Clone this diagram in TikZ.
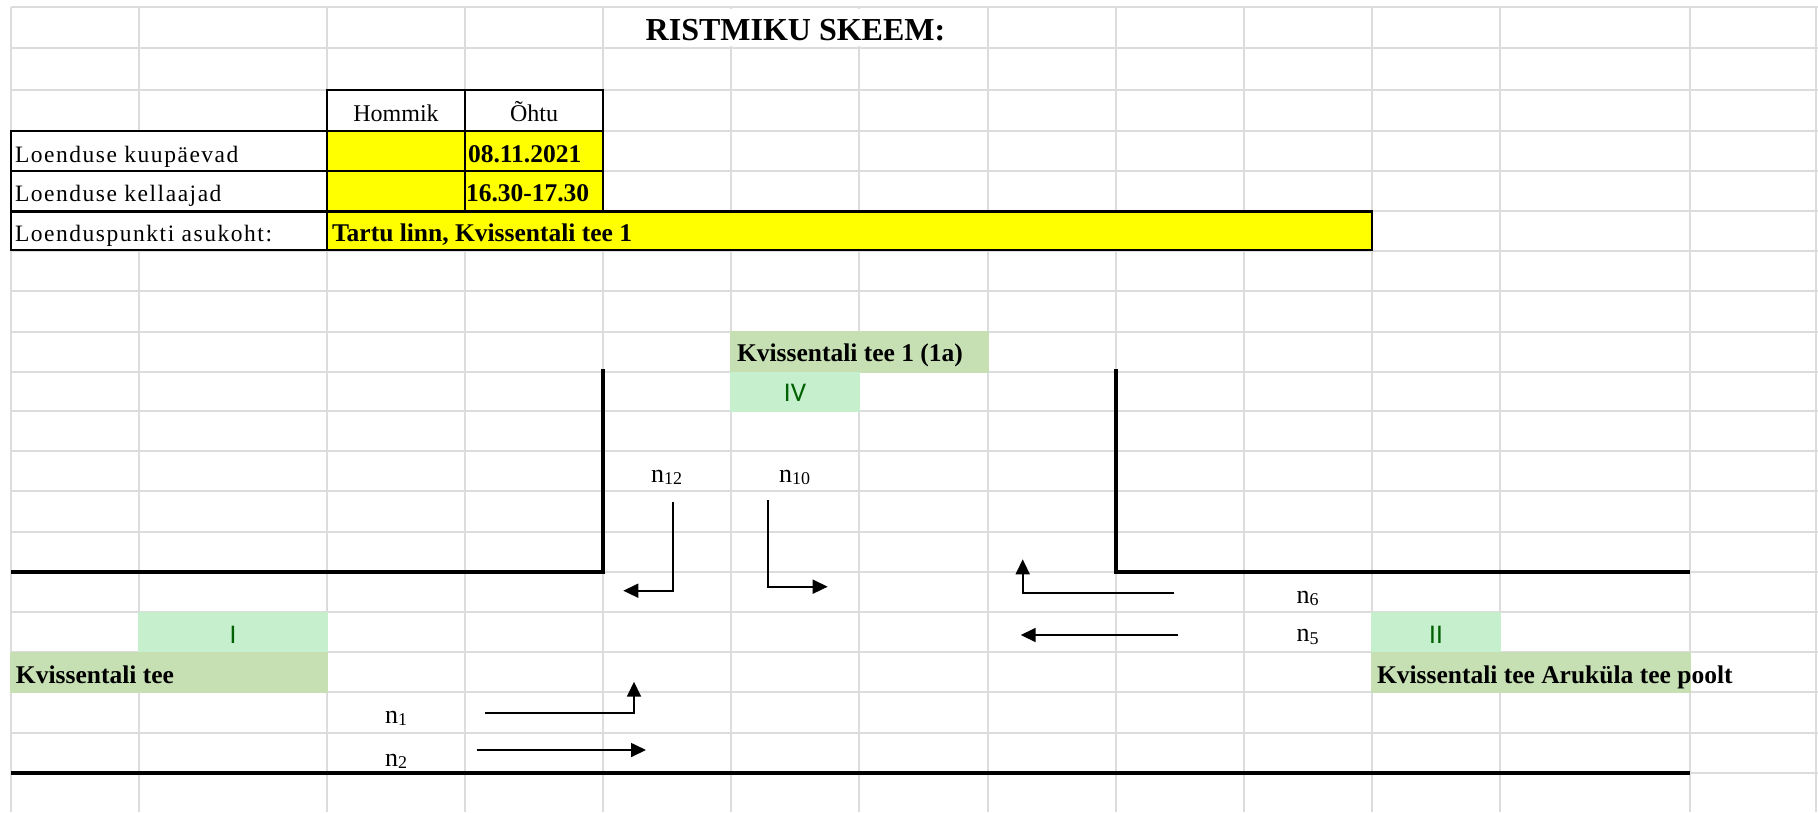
\documentclass[tikz,border=0pt]{standalone}
\usepackage{fontspec}
\setmainfont{Liberation Serif}
\newfontfamily\spacedserif[LetterSpace=6.5]{Liberation Serif}
\newfontfamily\numeralfont{Carlito}
\usetikzlibrary{arrows.meta}

\definecolor{gridgray}{HTML}{DCDCDC}
\definecolor{cellyellow}{HTML}{FFFF00}
\definecolor{roadgreen}{HTML}{C6E0B4}
\definecolor{goodgreen}{HTML}{C6EFCE}
\definecolor{goodtext}{HTML}{006100}

\newcommand\regtext{\fontsize{24}{30}\selectfont}
\newcommand\boldtext{\fontsize{25.5}{30}\selectfont\bfseries}
\newcommand\flowlabel[1]{{\fontsize{26}{26}\selectfont n}\raisebox{-2.5pt}{\fontsize{18}{18}\selectfont #1}}

\tikzset{
  gridline/.style={draw=gridgray, line width=2pt},
  cellbox/.style={rectangle, anchor=north west, inner sep=0pt, outer sep=0pt},
  tablecell/.style={cellbox, draw=black, line width=2pt},
  yellowcell/.style={tablecell, fill=cellyellow},
  roadname/.style={cellbox, fill=roadgreen},
  approach/.style={cellbox, fill=goodgreen},
  txt/.style={inner sep=0pt, outer sep=0pt},
  road/.style={line width=3.5pt, line join=miter},
  flow/.style={line width=1.7pt, -{Triangle[length=15pt,width=14pt]}},
}

\begin{document}
\begin{tikzpicture}[x=1pt, y=-1pt]
\useasboundingbox (0,0) rectangle (1818,812);
\fill[white] (0,0) rectangle (1818,812);

% spreadsheet grid
\foreach \gx in {11,139,327,465,603,731,859,988,1116,1244,1372,1500,1690,1816}
  \draw[gridline] (\gx,7) -- (\gx,812);
\foreach \gy in {7,48,90,131,171,211,251,291,332,372,411,451,491,532,572,612,652,692,733,773}
  \draw[gridline] (11,\gy) -- (1818,\gy);

% merged title cell and text overflow hide the inner grid lines
\fill[white] (606,9) rectangle (985,46);
\fill[white] (1686,654) rectangle (1694,690);

% title
\node[txt, anchor=base] (title) at (795.5,40.7)
  {\fontsize{32}{38}\selectfont\bfseries RISTMIKU SKEEM:};

% count table
\node[tablecell, fill=white, minimum width=138pt, minimum height=41pt] (hdrH) at (327,90) {};
\node[tablecell, fill=white, minimum width=138pt, minimum height=41pt] (hdrO) at (465,90) {};
\node[tablecell, fill=white, minimum width=316pt, minimum height=40pt] (labA) at (11,131) {};
\node[tablecell, fill=white, minimum width=316pt, minimum height=40pt] (labB) at (11,171) {};
\node[tablecell, fill=white, minimum width=316pt, minimum height=39pt] (labC) at (11,211) {};
\node[yellowcell, minimum width=138pt, minimum height=40pt] (dateH) at (327,131) {};
\node[yellowcell, minimum width=138pt, minimum height=40pt] (dateO) at (465,131) {};
\node[yellowcell, minimum width=138pt, minimum height=40pt] (timeH) at (327,171) {};
\node[yellowcell, minimum width=138pt, minimum height=40pt] (timeO) at (465,171) {};
\node[yellowcell, minimum width=1045pt, minimum height=39pt] (place) at (327,211) {};
\draw[line width=3pt] (labC.north west) -- (place.north east);

\node[txt, anchor=base] (tHommik) at (396,121.7) {\regtext Hommik};
\node[txt, anchor=base] (tOhtu) at (534,121.7) {\regtext Õhtu};
\node[txt, anchor=base west] (tDates) at (15,162.5) {\fontsize{23.5}{30}\spacedserif Loenduse kuupäevad};
\node[txt, anchor=base west] (tTimes) at (15,201.7) {\fontsize{23.5}{30}\spacedserif Loenduse kellaajad};
\node[txt, anchor=base west] (tPlace) at (15,241.5) {\fontsize{23.5}{30}\spacedserif Loenduspunkti asukoht:};
\node[txt, anchor=base west] (vDate) at (468,162.7) {\boldtext 08.11.2021};
\node[txt, anchor=base west] (vTime) at (466,201.7) {\boldtext 16.30-17.30};
\node[txt, anchor=base west] (vPlace) at (332,241.7) {\boldtext Tartu linn, Kvissentali tee 1};

% approach labels
\node[roadname, minimum width=259pt, minimum height=42pt] (nameIV) at (730,331) {};
\node[approach, minimum width=130pt, minimum height=40pt] (boxIV) at (730,372) {};
\node[approach, minimum width=190pt, minimum height=41pt] (boxI) at (138,612) {};
\node[roadname, minimum width=318pt, minimum height=41pt] (nameI) at (10,652) {};
\node[approach, minimum width=130pt, minimum height=41pt] (boxII) at (1371,612) {};
\node[roadname, minimum width=320pt, minimum height=41pt] (nameII) at (1371,652) {};

\node[txt, anchor=base west] (tNameIV) at (737,361.7) {\boldtext Kvissentali tee 1 (1a)};
\node[txt, anchor=base, text=goodtext] (tIV) at (795,401.7) {\fontsize{27}{30}\numeralfont IV};
\node[txt, anchor=base, text=goodtext] (tI) at (233,643) {\fontsize{27}{30}\numeralfont I};
\node[txt, anchor=base, text=goodtext] (tII) at (1436,643) {\fontsize{27}{30}\numeralfont II};
\node[txt, anchor=base west] (tNameI) at (16,683.3) {\boldtext Kvissentali tee};
\node[txt, anchor=base west] (tNameII) at (1377,683) {\boldtext Kvissentali tee Aruküla tee poolt};

% road edges
\coordinate (wTop) at (11,572);
\coordinate (wCorner) at (603,572);
\coordinate (wEnd) at (603,369);
\coordinate (eEnd) at (1116,369);
\coordinate (eCorner) at (1116,572);
\coordinate (eTop) at (1690,572);
\coordinate (sWest) at (11,773);
\coordinate (sEast) at (1690,773);
\draw[road] (wTop) -- (wCorner) -- (wEnd);
\draw[road] (eEnd) -- (eCorner) -- (eTop);
\draw[road] (sWest) -- (sEast);

% turning movements
\coordinate (a12s) at (672.7,501.7);
\coordinate (a12c) at (672.7,590.7);
\coordinate (a12e) at (623.3,590.7);
\coordinate (a10s) at (768.3,500);
\coordinate (a10c) at (768.3,586.7);
\coordinate (a10e) at (827.7,586.7);
\coordinate (a6s) at (1174,592.7);
\coordinate (a6c) at (1022.7,592.7);
\coordinate (a6e) at (1022.7,559.3);
\coordinate (a5s) at (1178.3,635);
\coordinate (a5e) at (1020.7,635);
\coordinate (a1s) at (485,712.7);
\coordinate (a1c) at (634,712.7);
\coordinate (a1e) at (634,681.7);
\coordinate (a2s) at (476.7,750);
\coordinate (a2e) at (646,750);

\draw[flow] (a12s) -- (a12c) -- (a12e);
\draw[flow] (a10s) -- (a10c) -- (a10e);
\draw[flow] (a6s) -- (a6c) -- (a6e);
\draw[flow] (a5s) -- (a5e);
\draw[flow] (a1s) -- (a1c) -- (a1e);
\draw[flow] (a2s) -- (a2e);

\node[txt, anchor=base west] (n12) at (651,482.3) {\flowlabel{12}};
\node[txt, anchor=base west] (n10) at (779,482.3) {\flowlabel{10}};
\node[txt, anchor=base west] (n6) at (1296.7,603.3) {\flowlabel{6}};
\node[txt, anchor=base west] (n5) at (1296.7,641.7) {\flowlabel{5}};
\node[txt, anchor=base west] (n1) at (385,723.3) {\flowlabel{1}};
\node[txt, anchor=base west] (n2) at (385,766) {\flowlabel{2}};
\end{tikzpicture}
\end{document}
